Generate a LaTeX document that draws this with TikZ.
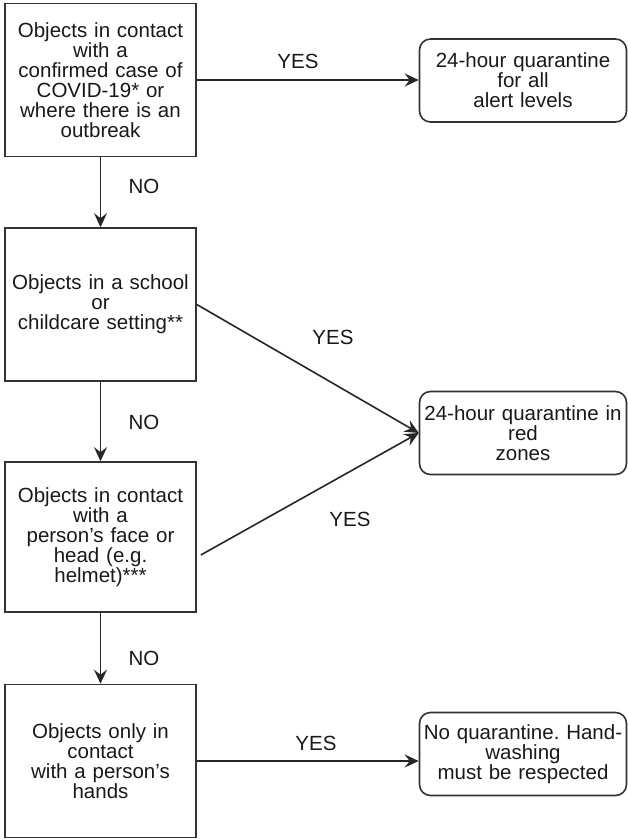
\documentclass[tikz,border=0pt]{standalone}
\usepackage{fontspec}
\setmainfont{Liberation Sans}
\frenchspacing
\usetikzlibrary{arrows.meta, positioning}
\tikzset{
  txt/.style = {align=center, inner sep=1pt, text=black!90,
    font=\fontsize{20.5}{20}\selectfont},
  qbox/.style = {txt, rectangle, draw=black!80, line width=1.6pt,
    minimum width=191pt, minimum height=153pt, text width=187pt},
  ans/.style = {txt, rectangle, rounded corners=11pt, draw=black!80,
    line width=1.6pt, minimum width=206pt, minimum height=83pt,
    text width=205pt},
  lbl/.style = {txt},
  flow/.style = {-{Stealth[length=14pt, width=13pt, inset=5pt]},
    line width=1.6pt, draw=black!85}
}

\begin{document}
\begin{tikzpicture}[x=1pt, y=-1pt]
\useasboundingbox (0,0) rectangle (628,840);
% questions
\node [qbox] (contact) at (100.5,80) {Objects in contact\\with a\\confirmed case of\\COVID-19* or\\where there is an\\outbreak};
\node [qbox] (school) at (100.5,304.5) {Objects in a school\\or\\childcare setting**};
\node [qbox, minimum height=150pt] (face) at (100.5,537) {Objects in contact\\with a\\person's face or\\head (e.g.\\helmet)***};
\node [qbox] (hands) at (100.5,761) {Objects only in\\contact\\with a person's\\hands};
% answers
\node [ans] (alllevels) at (523,80.5) {24-hour quarantine\\for all\\alert levels};
\node [ans] (redzones) at (523,433) {24-hour quarantine in\\red\\zones};
\node [ans] (noquar) at (523,754) {No quarantine. Hand-\\washing\\must be respected};
% labels
\node [lbl] (yes1) at (298,61) {YES};
\node [lbl] (yes2) at (333,337) {YES};
\node [lbl] (yes3) at (350,519) {YES};
\node [lbl] (yes4) at (316,743) {YES};
\node [lbl] (no1) at (144,186) {NO};
\node [lbl] (no2) at (144,422) {NO};
\node [lbl] (no3) at (144,658) {NO};

\draw [flow] (contact) -- (school);
\draw [flow] (school) -- (face);
\draw [flow] (face) -- (hands);
\draw [flow] (contact.east) -- (contact.east -| alllevels.west);
\draw [flow] (school.east) -- (redzones.west);
\draw [flow] ([xshift=4pt, yshift=-18pt]face.east) -- (redzones.west);
\draw [flow] (hands.east) -- (hands.east -| noquar.west);
\end{tikzpicture}
\end{document}
